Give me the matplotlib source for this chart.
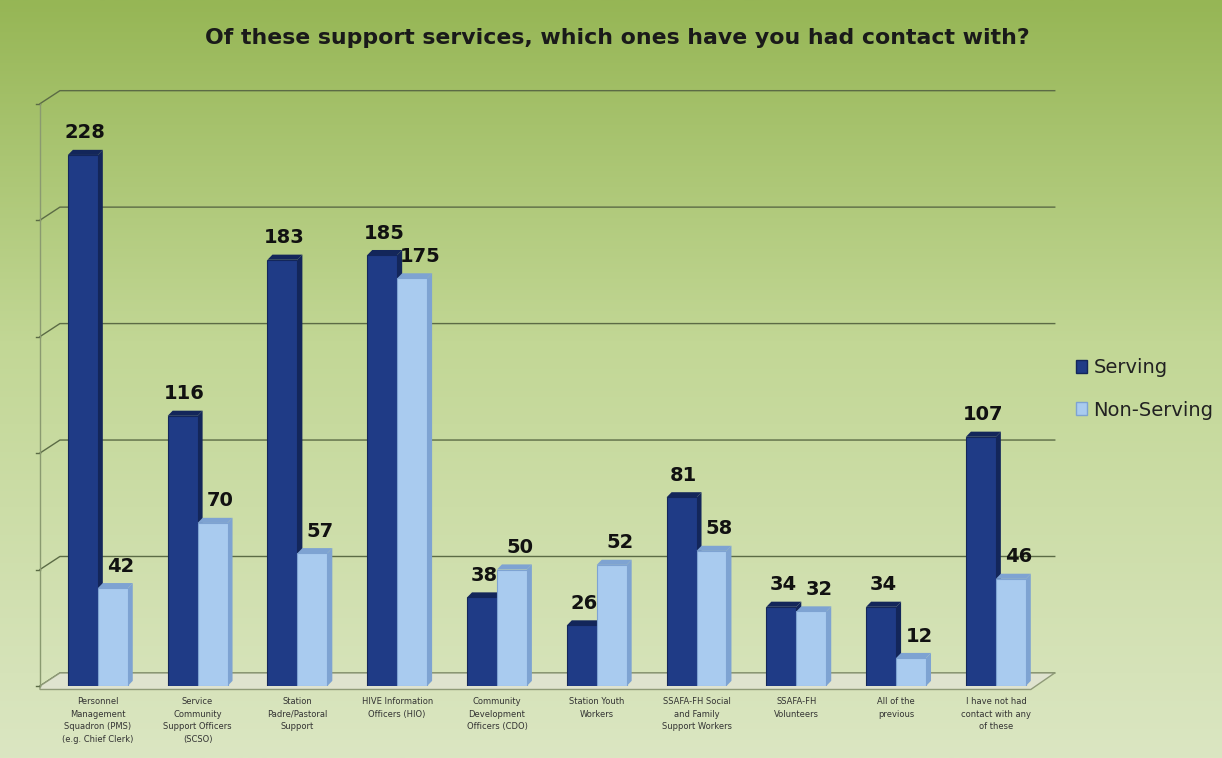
import numpy as np
import matplotlib
matplotlib.use("Agg")
import matplotlib.pyplot as plt
from matplotlib.colors import LinearSegmentedColormap
from matplotlib.patches import Polygon, Patch

categories = [
    "Personnel\nManagement\nSquadron (PMS)\n(e.g. Chief Clerk)",
    "Service\nCommunity\nSupport Officers\n(SCSO)",
    "Station\nPadre/Pastoral\nSupport",
    "HIVE Information\nOfficers (HIO)",
    "Community\nDevelopment\nOfficers (CDO)",
    "Station Youth\nWorkers",
    "SSAFA-FH Social\nand Family\nSupport Workers",
    "SSAFA-FH\nVolunteers",
    "All of the\nprevious",
    "I have not had\ncontact with any\nof these",
]
serving = [228, 116, 183, 185, 38, 26, 81, 34, 34, 107]
non_serving = [42, 70, 57, 175, 50, 52, 58, 32, 12, 46]
grid_values = [0, 50, 100, 150, 200, 250]

dark = "#1f3b86"
dark_side = "#13265a"
light = "#a9cbef"
light_side = "#7ea3d2"

fig = plt.figure(figsize=(12.22, 7.58), dpi=100)

# green background, darker at the top
bg = fig.add_axes([0, 0, 1, 1], zorder=-10)
cmap = LinearSegmentedColormap.from_list(
    "bg", [(0, "#96b655"), (0.45, "#c2d795"), (1, "#dbe6c2")])
bg.imshow(np.linspace(0, 1, 256).reshape(-1, 1), aspect="auto", cmap=cmap,
          extent=[0, 1, 0, 1])
bg.axis("off")

ax = fig.add_axes([0.0327, 0.095, 0.819, 0.786])
ax.patch.set_alpha(0)
x = np.arange(len(categories))
w = 0.3
ax.set_xlim(-0.58, 9.45)
ax.set_ylim(0, 255.8)

# depth offset of the pseudo-3D back wall (in data units)
dx, dy = 0.2, 5.6
for v in grid_values:
    ax.plot([-0.58, -0.58 + dx, 9.59], [v, v + dy, v + dy], color="#5b6b45",
            lw=1.0, clip_on=False, zorder=1)
    ax.plot([-0.62, -0.58], [v, v], color="#5b6b45", lw=1.0, clip_on=False)
ax.plot([-0.58, -0.58], [0, 250], color="#8a9a70", lw=1.0, clip_on=False)
# floor
ax.add_patch(Polygon([[-0.58, 0], [-0.58 + dx, dy], [9.59, dy], [9.35, -1.5], [-0.58, -1.5]],
                     closed=True, facecolor="#dfe3cf", edgecolor="#8f9a78",
                     lw=1.0, clip_on=False, zorder=1))

sx, sy = 0.05, 2.2
for vals, off, fc, sc, lx in [(serving, -w / 2, dark, dark_side, 0.02),
                              (non_serving, w / 2, light, light_side, 0.08)]:
    bars = ax.bar(x + off, vals, width=w, color=fc, edgecolor=sc, lw=0.8, zorder=3)
    for b, v in zip(bars, vals):
        x0, x1 = b.get_x(), b.get_x() + b.get_width()
        ax.add_patch(Polygon([[x1, 0], [x1 + sx, sy], [x1 + sx, v + sy], [x1, v]],
                             closed=True, facecolor=sc, edgecolor="none", zorder=2))
        ax.add_patch(Polygon([[x0, v], [x0 + sx, v + sy], [x1 + sx, v + sy], [x1, v]],
                             closed=True, facecolor=sc, edgecolor="none", zorder=3))
        ax.annotate(str(v), (b.get_x() + w / 2 + lx, v), xytext=(0, 9),
                    textcoords="offset points", ha="center", va="bottom",
                    fontsize=14, fontweight="bold", color="#111111", zorder=5)

ax.set_xticks(x)
ax.set_xticklabels(categories, fontsize=6, color="#333333", linespacing=1.5)
ax.tick_params(axis="x", length=0, pad=8)
ax.set_yticks([])
for s in ax.spines.values():
    s.set_visible(False)

fig.text(0.505, 0.95, "Of these support services, which ones have you had contact with?",
         ha="center", va="center", fontsize=15.8, fontweight="bold", color="#1a1a1a")

handles = [Patch(facecolor=dark, edgecolor=dark_side), Patch(facecolor=light, edgecolor=light_side)]
fig.legend(handles, ["Serving", "Non-Serving"], loc="center left",
           bbox_to_anchor=(0.866, 0.487), frameon=False, fontsize=14,
           handlelength=0.6, handleheight=0.6, handletextpad=0.3, labelspacing=1.2,
           labelcolor="#222222")

fig.savefig("out.png", dpi=100)
